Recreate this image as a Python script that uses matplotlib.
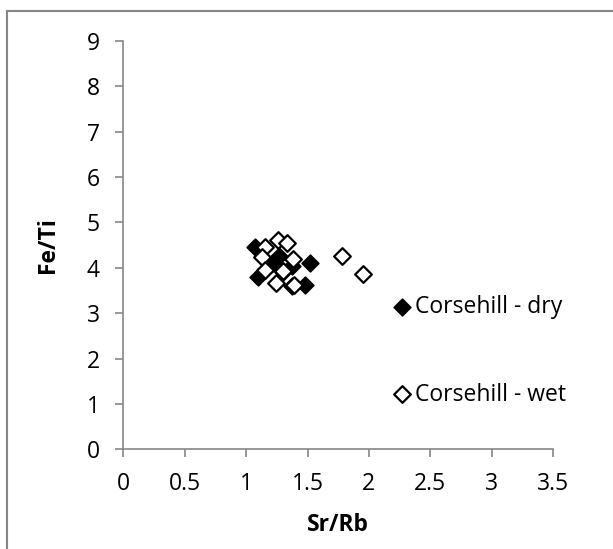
import matplotlib.pyplot as plt
from matplotlib.lines import Line2D

# Sr/Rb vs Fe/Ti
dry_x = [1.07, 1.10, 1.27, 1.22, 1.52, 1.48, 1.37, 1.37, 1.30]
dry_y = [4.45, 3.80, 4.25, 4.10, 4.10, 3.62, 3.60, 4.03, 3.90]
wet_x = [1.15, 1.26, 1.33, 1.13, 1.15, 1.24, 1.30, 1.39, 1.38, 1.78, 1.95]
wet_y = [4.46, 4.61, 4.55, 4.23, 3.96, 3.67, 3.92, 3.63, 4.20, 4.25, 3.86]

x_ticks = [0, 0.5, 1, 1.5, 2, 2.5, 3, 3.5]
x_labels = ["0", "0.5", "1", "1.5", "2", "2.5", "3", "3.5"]
y_ticks = list(range(0, 10))

plt.rcParams['font.family'] = ['Open Sans', 'DejaVu Sans']
FS = 16.5
GREY = '#868686'

fig = plt.figure(figsize=(6.13, 5.49), dpi=100)
ax = fig.add_axes([123.5/613, 1 - 449.3/549, (553-123.5)/613, (449.3-41)/549])

ax.scatter(dry_x, dry_y, marker='D', s=72, c='black', edgecolors='black',
           linewidths=1.2, label='Corsehill - dry', zorder=3)
ax.scatter(wet_x, wet_y, marker='D', s=72, c='white', edgecolors='black',
           linewidths=1.6, label='Corsehill - wet', zorder=4)

ax.set_xlim(0, 3.5)
ax.set_ylim(0, 9)
ax.set_xticks(x_ticks)
ax.set_xticklabels(x_labels)
ax.set_yticks(y_ticks)

for s in ['top', 'right']:
    ax.spines[s].set_visible(False)
for s in ['left', 'bottom']:
    ax.spines[s].set_color(GREY)
    ax.spines[s].set_linewidth(1.2)
ax.tick_params(direction='out', length=6, width=1.2, color=GREY, labelsize=FS)
ax.tick_params(axis='y', pad=11)
ax.tick_params(axis='x', pad=10)

ax.set_xlabel('Sr/Rb', fontsize=FS, fontweight='bold', va='center')
ax.xaxis.set_label_coords(0.5, (449.3 - 525) / 408.3)
ax.set_ylabel('Fe/Ti', fontsize=FS, fontweight='bold', va='center')
ax.yaxis.set_label_coords((48 - 123.5) / 429.5, 0.5)

fig.legend(loc='center left', bbox_to_anchor=(393/613, 1 - 351/549),
           frameon=False, fontsize=FS, labelspacing=2.75, handletextpad=0.2,
           handlelength=0.75, borderpad=0, borderaxespad=0)

# chart border (only top and left edges are inside the picture)
fig.add_artist(Line2D([6.5/613, 6.5/613], [0, 1 - 11/549], color=GREY,
                      linewidth=1.5, transform=fig.transFigure))
fig.add_artist(Line2D([6.5/613, 1], [1 - 11/549, 1 - 11/549], color=GREY,
                      linewidth=1.5, transform=fig.transFigure))

fig.savefig('out.png', dpi=100)
